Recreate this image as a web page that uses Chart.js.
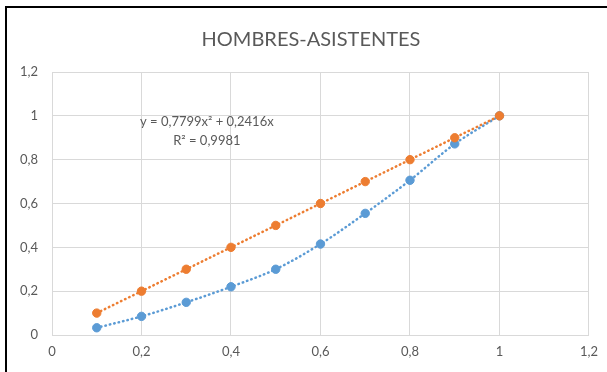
<!DOCTYPE html>
<html>
<head>
<meta charset="utf-8">
<script src="https://cdn.jsdelivr.net/npm/chart.js@4"></script>
<style>
    html, body { margin: 0; padding: 0; background: #fff; }
    #frame {
        position: absolute; left: 5px; top: 6px; width: 620px; height: 380px;
        border-top: 2px solid #000; border-left: 2px solid #000;
    }
    #wrap { position: absolute; left: 0; top: 0; width: 607px; height: 372px; }
</style>
</head>
<body>
    <div id="frame"></div>
    <div id="wrap"><canvas id="scatterChart"></canvas></div>

    <script>
        // Data
        const xValues = [0.1, 0.2, 0.3, 0.4, 0.5, 0.6, 0.7, 0.8, 0.9, 1];
        const blueValues = [0.033, 0.085, 0.149, 0.22, 0.30, 0.415, 0.555, 0.706, 0.872, 1];
        const orangeValues = [0.1, 0.2, 0.3, 0.4, 0.5, 0.6, 0.7, 0.8, 0.9, 1];
        const chartTitle = 'HOMBRES-ASISTENTES';
        const trendText = ['y = 0,7799x² + 0,2416x', 'R² = 0,9981'];

        const fontFamily = 'Lato, "Open Sans", sans-serif';
        const grey = '#595959';

        function toPoints(ys) {
            return xValues.map((x, i) => ({ x: x, y: ys[i] }));
        }

        function formatTick(v) {
            return String(Math.round(v * 10) / 10).replace('.', ',');
        }

        // Title (centred on the whole frame, like Excel) and trendline label
        const textLayer = {
            id: 'textLayer',
            afterDatasetsDraw(chart) {
                const { ctx, scales } = chart;
                ctx.save();
                ctx.fillStyle = grey;
                ctx.textAlign = 'center';
                ctx.textBaseline = 'middle';

                ctx.font = '20px ' + fontFamily;
                ctx.fillText(chartTitle, 311, 40);

                ctx.font = '13px ' + fontFamily;
                const cx = scales.x.getPixelForValue(0.346);
                ctx.fillText(trendText[0], cx, scales.y.getPixelForValue(0.973));
                ctx.fillText(trendText[1], cx, scales.y.getPixelForValue(0.886));
                ctx.restore();
            }
        };

        const ctx = document.getElementById('scatterChart').getContext('2d');
        new Chart(ctx, {
            type: 'scatter',
            data: {
                datasets: [
                    {
                        label: 'Asistentes',
                        data: toPoints(orangeValues),
                        showLine: true,
                        borderColor: '#ED7D31',
                        backgroundColor: '#ED7D31',
                        borderWidth: 2.5,
                        borderDash: [0.5, 4],
                        borderCapStyle: 'round',
                        pointRadius: 4.2,
                        pointBorderWidth: 1,
                        pointHoverRadius: 4.2
                    },
                    {
                        label: 'Hombres',
                        data: toPoints(blueValues),
                        showLine: true,
                        tension: 0.3,
                        borderColor: '#5B9BD5',
                        backgroundColor: '#5B9BD5',
                        borderWidth: 2.5,
                        borderDash: [0.5, 4],
                        borderCapStyle: 'round',
                        pointRadius: 4.2,
                        pointBorderWidth: 1,
                        pointHoverRadius: 4.2
                    }
                ]
            },
            options: {
                responsive: true,
                maintainAspectRatio: false,
                animation: false,
                layout: { padding: { left: 0, right: 18, top: 72, bottom: 0 } },
                plugins: {
                    legend: { display: false },
                    tooltip: { enabled: false },
                    title: { display: false }
                },
                scales: {
                    x: {
                        type: 'linear',
                        min: 0,
                        max: 1.2,
                        ticks: {
                            stepSize: 0.2,
                            color: grey,
                            padding: 9,
                            font: { family: fontFamily, size: 13 },
                            callback: formatTick
                        },
                        grid: { color: '#D9D9D9', drawTicks: false },
                        border: { color: '#D9D9D9' },
                        afterFit(scale) { scale.height = 37; }
                    },
                    y: {
                        min: 0,
                        max: 1.2,
                        ticks: {
                            stepSize: 0.2,
                            color: grey,
                            padding: 14,
                            font: { family: fontFamily, size: 13 },
                            callback: formatTick
                        },
                        grid: { color: '#D9D9D9', drawTicks: false },
                        border: { color: '#D9D9D9' },
                        afterFit(scale) { scale.width = 52; }
                    }
                }
            },
            plugins: [textLayer]
        });
    </script>
</body>
</html>
